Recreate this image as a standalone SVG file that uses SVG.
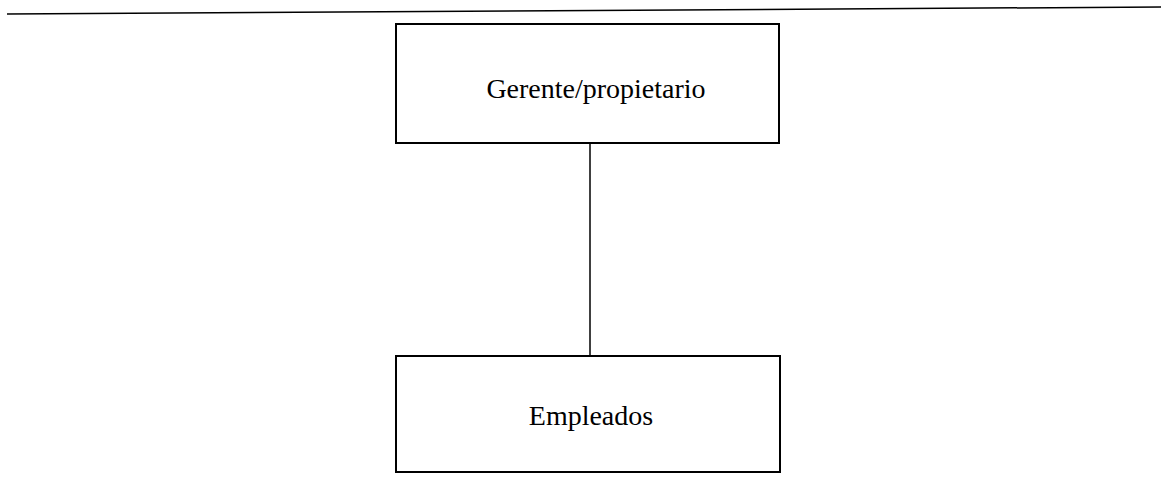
<svg xmlns="http://www.w3.org/2000/svg" width="1161" height="478" viewBox="0 0 1161 478">
<style>
.box{fill:#fff;stroke:#000;stroke-width:2}
.lbl{font-family:"Liberation Serif","Times New Roman",serif;font-size:28px;fill:#000;text-anchor:middle}
.conn{stroke:#000;stroke-width:1.5;fill:none}
</style>
<rect width="1161" height="478" fill="#fff"/>
<line x1="7" y1="14" x2="1161" y2="7" stroke="#000" stroke-width="1.5"/>
<g id="connectors">
<line class="conn" x1="590" y1="144" x2="590" y2="356"/>
</g>
<g id="node-gerente">
<rect class="box" x="396" y="24" width="383" height="119"/>
<text class="lbl" x="596" y="98">Gerente/propietario</text>
</g>
<g id="node-empleados">
<rect class="box" x="396" y="356" width="384" height="116"/>
<text class="lbl" x="591" y="425">Empleados</text>
</g>
</svg>
